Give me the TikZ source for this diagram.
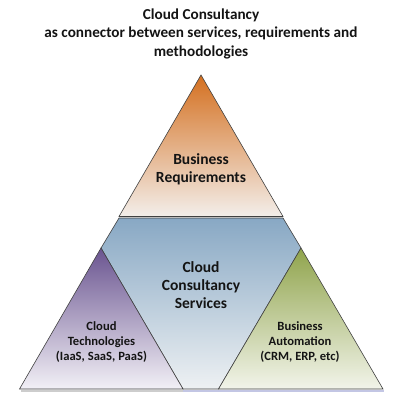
\documentclass[tikz,border=0pt]{standalone}
\usepackage{fontspec}
\setmainfont{Carlito}
\definecolor{orTop}{RGB}{212,112,32}
\definecolor{orBot}{RGB}{243,238,234}
\definecolor{blTop}{RGB}{136,168,196}
\definecolor{blBot}{RGB}{238,241,243}
\definecolor{puTop}{RGB}{106,84,144}
\definecolor{puBot}{RGB}{242,240,246}
\definecolor{grTop}{RGB}{144,164,76}
\definecolor{grBot}{RGB}{242,244,234}
\definecolor{edge}{RGB}{65,65,65}
\definecolor{txt}{RGB}{20,20,20}
\definecolor{shadowL}{RGB}{205,205,205}
\definecolor{shadowR}{RGB}{195,198,228}
\tikzset{
  outline/.style={draw=edge, line width=0.6pt, line join=miter},
  bigtext/.style={font=\bfseries\fontsize{15.5}{18}\selectfont, text=txt, align=center, inner sep=0pt},
  smalltext/.style={font=\bfseries\fontsize{12.6}{15}\selectfont, text=txt, align=center, inner sep=0pt},
  titletext/.style={font=\bfseries\fontsize{15.2}{18.5}\selectfont, text=txt, align=center, inner sep=0pt},
}
\begin{document}
\begin{tikzpicture}[x=1pt,y=-1pt]
\useasboundingbox (0,0) rectangle (403,403);
\fill[white] (0,0) rectangle (403,403);
% shadows
\draw[line width=1.6pt, shadowL] (21,391) -- (183,391);
\draw[line width=1.6pt, shadowR] (183,391) -- (384,391);
% blue middle region
\shade[top color=blTop, bottom color=blBot, outline]
  (119,218) -- (283,218) -- (301,248) -- (218.5,389) -- (183,389) -- (101,248) -- cycle;
% top triangle
\shade[top color=orTop, bottom color=orBot, outline]
  (201,75) -- (283,216.5) -- (119,216.5) -- cycle;
% left triangle
\shade[top color=puTop, bottom color=puBot, outline]
  (101,248) -- (183,389) -- (19.5,389) -- cycle;
% right triangle
\shade[top color=grTop, bottom color=grBot, outline]
  (301,248) -- (383,389) -- (218.5,389) -- cycle;
% texts
\node[titletext] (title) at (201,33.5) {Cloud Consultancy\\as connector between services, requirements and\\methodologies};
\node[bigtext] (req) at (201,169) {Business\\Requirements};
\node[bigtext] (svc) at (201,285) {Cloud\\Consultancy\\Services};
\node[smalltext] (tech) at (101.5,342) {Cloud\\Technologies\\(IaaS, SaaS, PaaS)};
\node[smalltext] (auto) at (300,342) {Business\\Automation\\(CRM, ERP, etc)};
\end{tikzpicture}
\end{document}
